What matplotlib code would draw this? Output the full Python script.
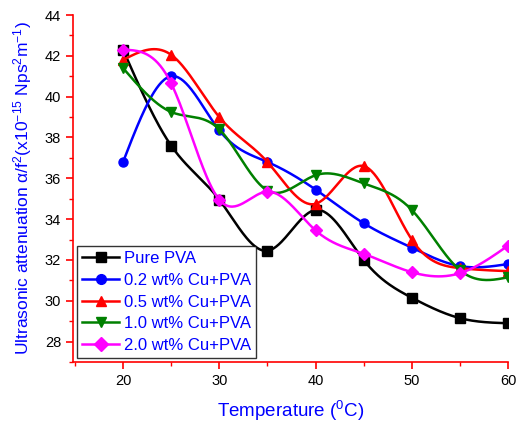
import numpy as np
import matplotlib
matplotlib.use("Agg")
import matplotlib.pyplot as plt
from matplotlib.ticker import MultipleLocator

plt.rcParams['font.family'] = ['Liberation Sans', 'DejaVu Sans']

# --- dados ---
temperatura = [20, 25, 30, 35, 40, 45, 50, 55, 60]
pure_pva = [42.3, 37.6, 34.95, 32.45, 34.45, 32.0, 30.15, 29.15, 28.9]
cu_02 = [36.8, 41.0, 38.35, 36.8, 35.45, 33.8, 32.6, 31.7, 31.8]
cu_05 = [41.8, 42.05, 39.0, 36.8, 34.75, 36.6, 33.0, 31.6, 31.45]
cu_10 = [41.4, 39.25, 38.4, 35.4, 36.15, 35.75, 34.45, 31.5, 31.15]
cu_20 = [42.3, 40.65, 34.95, 35.35, 33.45, 32.3, 31.4, 31.35, 32.7]

series = [
    ("Pure PVA", pure_pva, "black", "s"),
    ("0.2 wt% Cu+PVA", cu_02, "blue", "o"),
    ("0.5 wt% Cu+PVA", cu_05, "red", "^"),
    ("1.0 wt% Cu+PVA", cu_10, "green", "v"),
    ("2.0 wt% Cu+PVA", cu_20, "magenta", "D"),
]


# spline cubica natural (sem scipy)
def spline(x, y, n=300):
    x = np.asarray(x, float)
    y = np.asarray(y, float)
    k = len(x)
    h = np.diff(x)
    A = np.zeros((k, k))
    b = np.zeros(k)
    A[0, 0] = A[-1, -1] = 1
    for i in range(1, k - 1):
        A[i, i - 1] = h[i - 1]
        A[i, i] = 2 * (h[i - 1] + h[i])
        A[i, i + 1] = h[i]
        b[i] = 3 * ((y[i + 1] - y[i]) / h[i] - (y[i] - y[i - 1]) / h[i - 1])
    c = np.linalg.solve(A, b)
    xs = np.linspace(x[0], x[-1], n)
    idx = np.clip(np.searchsorted(x, xs) - 1, 0, k - 2)
    dx = xs - x[idx]
    hi = h[idx]
    bb = (y[idx + 1] - y[idx]) / hi - hi * (2 * c[idx] + c[idx + 1]) / 3
    dd = (c[idx + 1] - c[idx]) / (3 * hi)
    ys = y[idx] + bb * dx + c[idx] * dx ** 2 + dd * dx ** 3
    return xs, ys


fig = plt.figure(figsize=(5.16, 4.23), dpi=100)
ax = fig.add_axes([0.1415, 0.1442, 0.843, 0.8203])

for nome, vals, cor, mk in series:
    xs, ys = spline(temperatura, vals)
    ax.plot(xs, ys, color=cor, lw=1.8)
    ax.plot(temperatura, vals, linestyle="none", marker=mk, color=cor,
            markersize=6.5 if mk != "D" else 6)
    ax.plot([], [], color=cor, lw=1.8, marker=mk, markersize=7, label=nome)

ax.set_xlim(14.8, 60)
ax.set_ylim(27, 44)
ax.xaxis.set_major_locator(MultipleLocator(10))
ax.xaxis.set_minor_locator(MultipleLocator(5))
ax.yaxis.set_major_locator(MultipleLocator(2))
ax.yaxis.set_minor_locator(MultipleLocator(1))

for s in ["top", "right"]:
    ax.spines[s].set_visible(False)
for s in ["left", "bottom"]:
    ax.spines[s].set_color("red")
    ax.spines[s].set_linewidth(1.2)
ax.tick_params(which="both", direction="out", color="red", labelsize=10.5,
               labelcolor="black")
ax.tick_params(which="major", length=5, width=1.2)
ax.tick_params(which="minor", length=3, width=1.0)

ax.set_xlabel("Temperature ($\\mathregular{^0}$C)", color="blue", fontsize=13.5,
              labelpad=8)
ax.set_ylabel("Ultrasonic attenuation α/f$\\mathregular{^2}$(x10$\\mathregular{^{-15}}$ Nps$\\mathregular{^2}$m$\\mathregular{^{-1}}$)",
              color="blue", fontsize=12.5, labelpad=8)

leg = ax.legend(loc="lower left", fontsize=12, frameon=True, fancybox=False,
                borderpad=0.3, labelspacing=0.4, handlelength=2.2,
                handletextpad=0.3, borderaxespad=0.25)
leg.get_frame().set_edgecolor("black")
leg.get_frame().set_linewidth(1.0)
for t in leg.get_texts():
    t.set_color("blue")

fig.savefig("out.png", dpi=100)
